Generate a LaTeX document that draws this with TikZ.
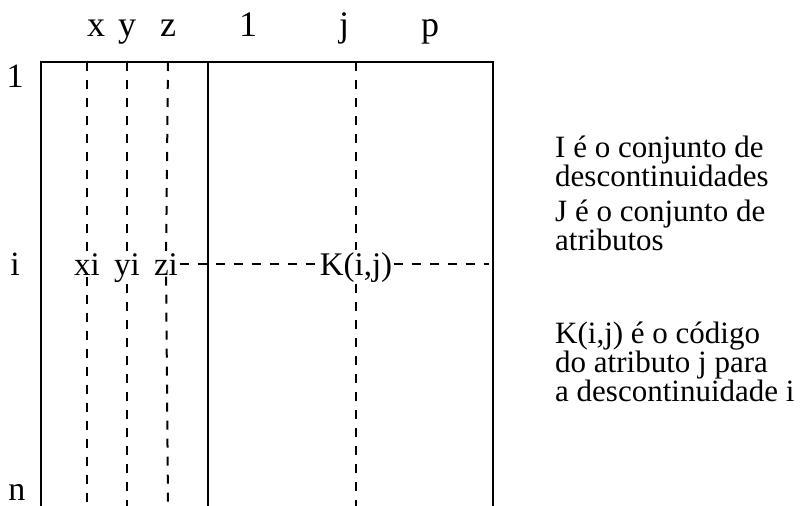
\documentclass[tikz,border=0pt]{standalone}
\usepackage{fontspec}
\setmainfont{Liberation Serif}
\usepackage{tikz}
\usetikzlibrary{positioning}

\begin{document}
\begin{tikzpicture}[
    x=1pt,
    y=-1pt,
    every node/.style={font=\fontsize{33}{36}\selectfont, inner sep=1pt},
    frame/.style={line width=2pt},
    dashline/.style={line width=2pt, dash pattern=on 9pt off 9pt},
    colhead/.style={anchor=base, font=\fontsize{36}{40}\selectfont},
    rowhead/.style={anchor=base, font=\fontsize{34}{38}\selectfont},
    cell/.style={anchor=base, inner sep=1.5pt},
    note/.style={anchor=west, align=left, inner sep=0pt,
        font=\fontsize{31}{27}\selectfont}
]

\useasboundingbox (0,0) rectangle (801,506);

% Table frame (open at the bottom)
\coordinate (tl) at (41,62);
\coordinate (tr) at (493,62);
\coordinate (bl) at (41,506);
\coordinate (br) at (493,506);
\draw[frame] (bl) -- (tl) -- (tr) -- (br);

% Separator between x,y,z and the attributes
\coordinate (sepT) at (208,62);
\coordinate (sepB) at (208,506);
\draw[frame] (sepT) -- (sepB);

% Column heads
\node[colhead] (hx) at (96,36) {x};
\node[colhead] (hy) at (127,36) {y};
\node[colhead] (hz) at (168,36) {z};
\node[colhead] (h1) at (248,36) {1};
\node[colhead] (hj) at (344,36) {j};
\node[colhead] (hp) at (430,36) {p};

% Row heads
\node[rowhead] (r1) at (15,87) {1};
\node[rowhead] (ri) at (15,275) {i};
\node[rowhead] (rn) at (17,500) {n};

% Row i
\node[cell] (xi) at (87,275) {xi};
\node[cell] (yi) at (127,275) {yi};
\node[cell] (zi) at (166,275) {zi};
\node[cell] (kij) at (356,275) {K(i,j)};
\coordinate (iend) at (489,0 |- zi.east);

% Dashed columns
\coordinate (xtop) at (87,62);
\coordinate (xbot) at (87,506);
\coordinate (ytop) at (127,62);
\coordinate (ybot) at (127,506);
\coordinate (ztop) at (168,62);
\coordinate (zbot) at (168,506);
\coordinate (jtop) at (356,62);
\coordinate (jbot) at (356,506);

\draw[dashline] (xtop) -- (xi);
\draw[dashline] (xi) -- (xbot);
\draw[dashline] (ytop) -- (yi);
\draw[dashline] (yi) -- (ybot);
\draw[dashline] (ztop) -- (zi);
\draw[dashline] (zi) -- (zbot);
\draw[dashline] (jtop) -- (kij);
\draw[dashline] (kij) -- (jbot);

% Dashed row i
\draw[dashline] (zi.east) -- (zi.east -| kij.west);
\draw[dashline] (kij.east |- zi.east) -- (iend);

% Notes
\node[note] (noteI) at (555,161) {I é o conjunto de\\descontinuidades};
\node[note] (noteJ) at (555,225) {J é o conjunto de\\atributos};
\node[note] (noteK) at (555,362)
    {K(i,j) é o código\\do atributo j para\\a descontinuidade i};

\end{tikzpicture}
\end{document}
